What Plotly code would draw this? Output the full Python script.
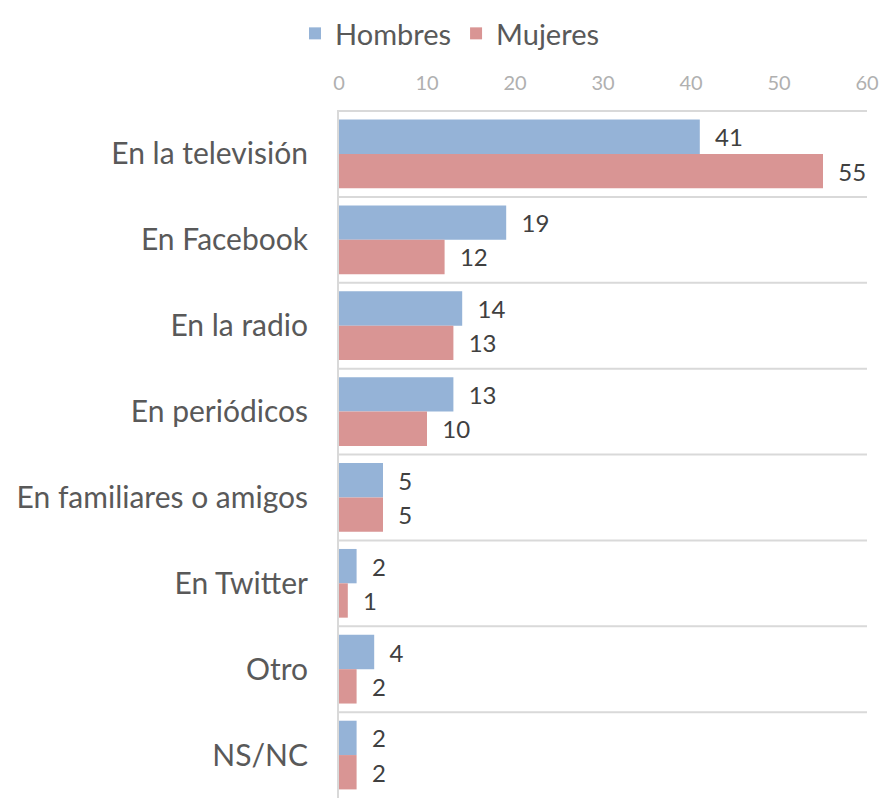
import plotly.graph_objects as go

categories = ["En la televisión", "En Facebook", "En la radio", "En periódicos",
              "En familiares o amigos", "En Twitter", "Otro", "NS/NC"]
hombres = [41, 19, 14, 13, 5, 2, 4, 2]
mujeres = [55, 12, 13, 10, 5, 1, 2, 2]
x_ticks = [0, 10, 20, 30, 40, 50, 60]

FONT = "Lato"
TXT = "#404040"

fig = go.Figure()
fig.add_trace(go.Bar(
    name="Hombres", y=categories, x=hombres, orientation="h",
    marker=dict(color="#95B3D7", line=dict(width=0)),
    text=hombres, texttemplate="  %{x}", textposition="outside",
    textfont=dict(family=FONT, size=24, color=TXT),
    constraintext="none", cliponaxis=False,
))
fig.add_trace(go.Bar(
    name="Mujeres", y=categories, x=mujeres, orientation="h",
    marker=dict(color="#D99594", line=dict(width=0)),
    text=mujeres, texttemplate="  %{x}", textposition="outside",
    textfont=dict(family=FONT, size=24, color=TXT),
    constraintext="none", cliponaxis=False,
))

shapes = []
for i in range(len(categories)):
    shapes.append(dict(type="line", xref="x", yref="y", x0=0, x1=60,
                       y0=i - 0.5, y1=i - 0.5, layer="below",
                       line=dict(color="#D9D9D9", width=2)))

fig.update_layout(
    width=883, height=791,
    margin=dict(l=331, r=24, t=102, b=1),
    paper_bgcolor="white", plot_bgcolor="white",
    barmode="group", bargap=0.2, bargroupgap=0,
    showlegend=True,
    legend=dict(orientation="h", xref="container", yref="container",
                x=0.5, xanchor="center", y=1, yanchor="top",
                font=dict(family=FONT, size=29, color="#595959"),
                itemwidth=30, traceorder="normal", borderwidth=0),
    shapes=shapes,
    xaxis=dict(side="top", range=[0, 60], tickvals=x_ticks,
               showgrid=False, zeroline=False, showline=False,
               ticks="", ticklabelstandoff=15,
               tickfont=dict(family=FONT, size=20, color="#B0B0B0"),
               fixedrange=True),
    yaxis=dict(autorange="reversed", showgrid=False, zeroline=False,
               showline=True, linecolor="#D9D9D9", linewidth=2,
               ticks="", ticklabelstandoff=23, automargin=False,
               tickfont=dict(family=FONT, size=30, color="#595959"),
               fixedrange=True),
)

fig.write_html("out.html")
